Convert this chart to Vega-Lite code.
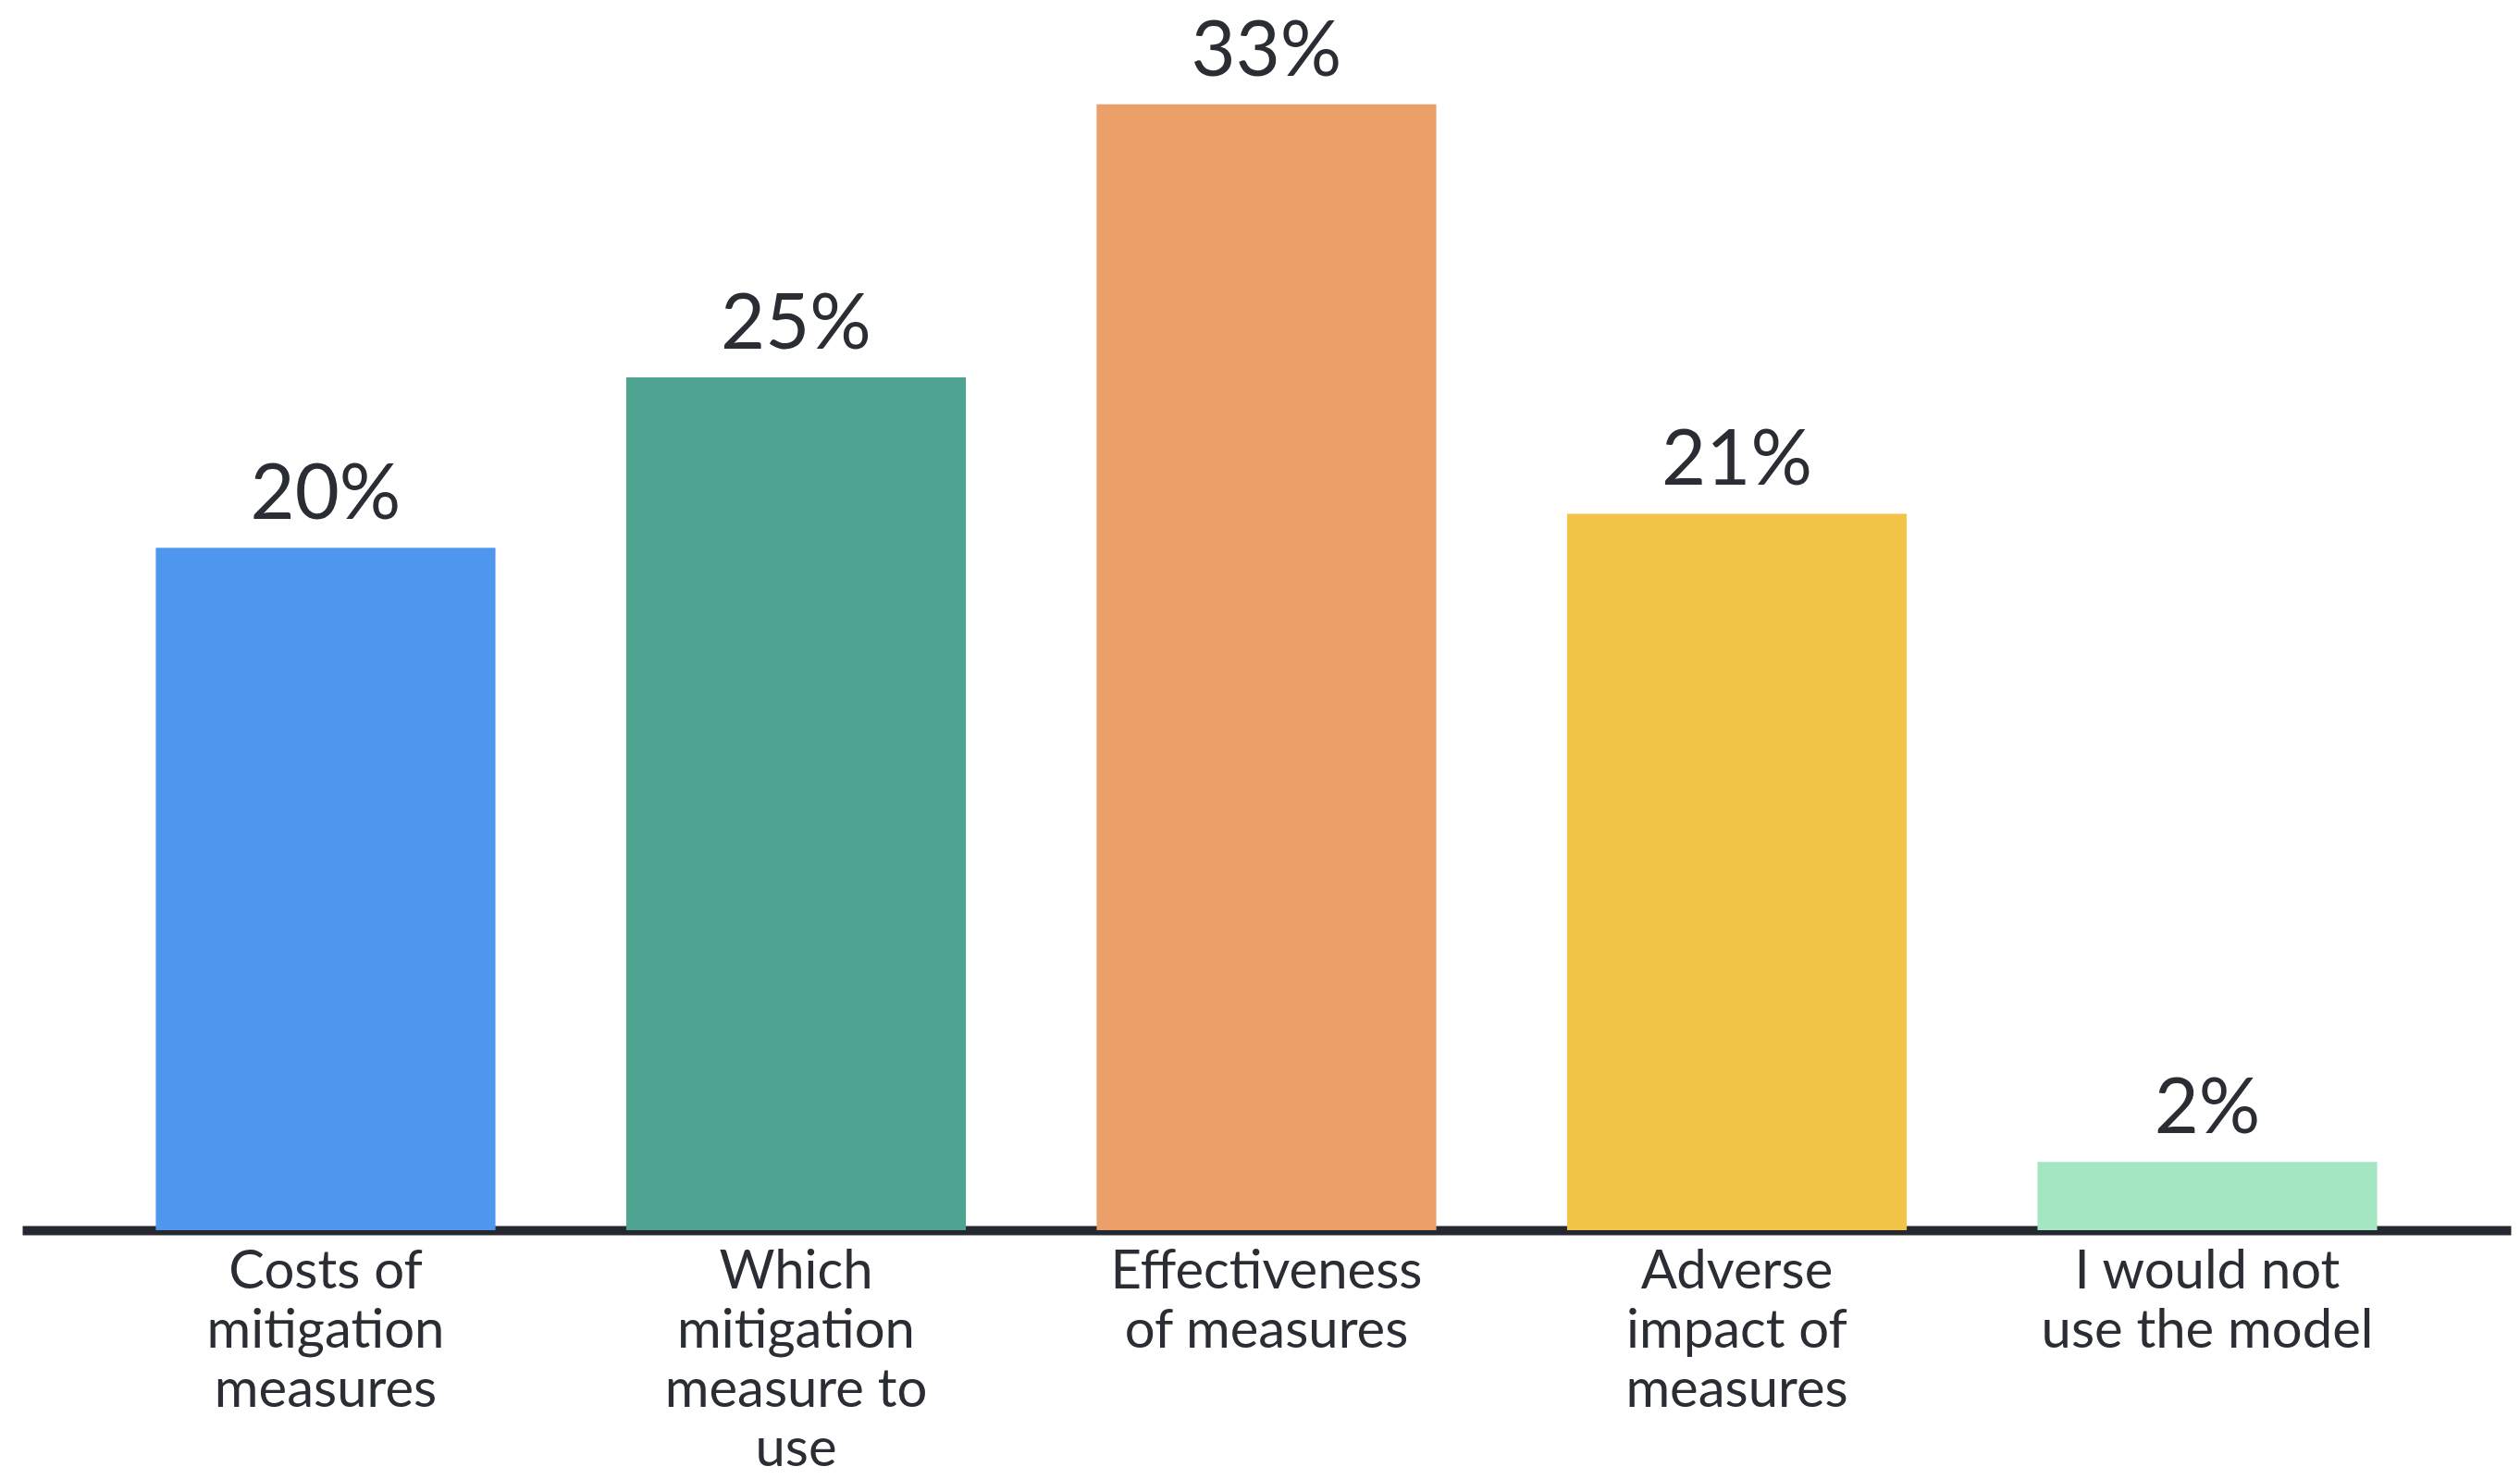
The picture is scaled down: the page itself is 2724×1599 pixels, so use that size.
{
  "$schema": "https://vega.github.io/schema/vega-lite/v6.json",
  "width": 2690,
  "height": 1330,
  "autosize": {"type": "none"},
  "padding": {"left": 24, "top": 0, "right": 10, "bottom": 269},
  "background": "#ffffff",
  "config": {"view": {"stroke": null}, "font": "Lato"},
  "data": {"values": [
    {"category": "Costs of|mitigation|measures", "pct": 20, "label": "20%"},
    {"category": "Which|mitigation|measure to|use", "pct": 25, "label": "25%"},
    {"category": "Effectiveness|of measures", "pct": 33, "label": "33%"},
    {"category": "Adverse|impact of|measures", "pct": 21, "label": "21%"},
    {"category": "I would not|use the model", "pct": 2, "label": "2%"}
  ]},
  "encoding": {
    "x": {
      "field": "category", "type": "nominal", "sort": null,
      "scale": {"paddingInner": 0.278, "paddingOuter": 0.284},
      "axis": {
        "title": null, "labelAngle": 0, "ticks": false,
        "domainColor": "#252830", "domainWidth": 10,
        "labelExpr": "split(datum.label, '|')",
        "labelFont": "Lato", "labelFontSize": 58, "labelColor": "#2a2d34",
        "labelLineHeight": 64, "labelBaseline": "alphabetic", "labelPadding": 62,
        "labelLimit": 0
      }
    },
    "y": {
      "field": "pct", "type": "quantitative",
      "scale": {"domain": [0, 36.06], "nice": false, "zero": true},
      "axis": null
    }
  },
  "layer": [
    {
      "mark": {"type": "bar"},
      "encoding": {
        "color": {
          "field": "category", "type": "nominal", "sort": null, "legend": null,
          "scale": {"range": ["#4f97ee", "#4ea391", "#eba06a", "#f2c447", "#a4e5c2"]}
        }
      }
    },
    {
      "mark": {"type": "text", "baseline": "alphabetic", "dy": -31, "fontSize": 83, "color": "#2a2d34", "font": "Lato"},
      "encoding": {"text": {"field": "label"}}
    }
  ]
}
